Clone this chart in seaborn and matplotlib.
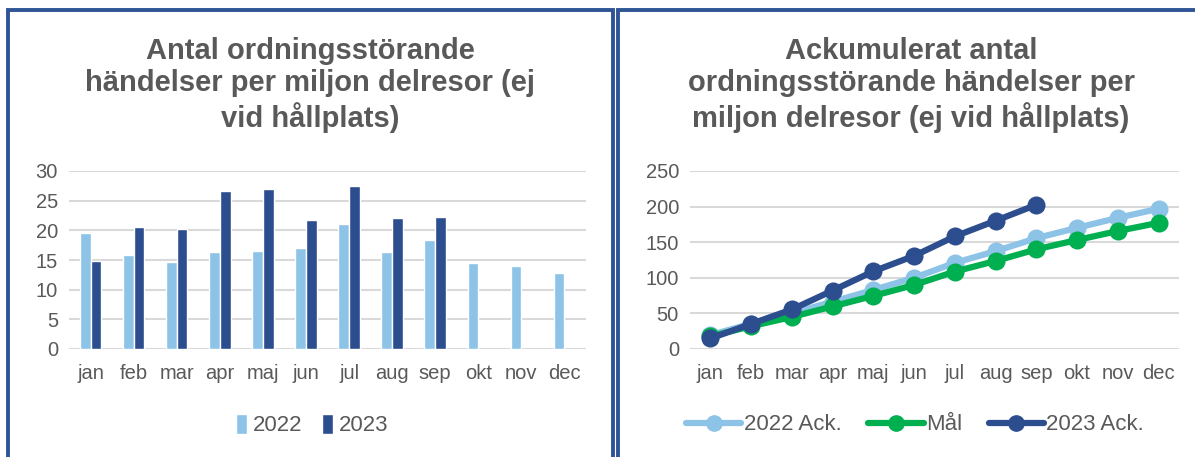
import pandas as pd
import matplotlib.pyplot as plt
import seaborn as sns
from matplotlib.patches import Rectangle
from matplotlib.lines import Line2D

# data
months = ["jan", "feb", "mar", "apr", "maj", "jun", "jul", "aug", "sep", "okt", "nov", "dec"]
monthly_2022 = [19.6, 15.9, 14.6, 16.4, 16.5, 17.0, 21.0, 16.4, 18.3, 14.5, 14.0, 12.8]
monthly_2023 = [14.8, 20.5, 20.2, 26.6, 27.0, 21.7, 27.4, 22.0, 22.3]
ack_2022 = [19.6, 35.5, 50.1, 66.5, 83.0, 100.0, 121.0, 137.4, 155.7, 170.2, 184.2, 197.0]
ack_mal = [17.6, 32.0, 45.0, 59.8, 74.6, 89.9, 108.8, 123.6, 140.0, 153.1, 165.7, 177.2]
ack_2023 = [14.8, 35.3, 55.5, 82.1, 109.1, 130.8, 158.2, 180.2, 202.5]

light = "#8DC3E7"
dark = "#2C4D8E"
green = "#00AF50"
grey = "#595959"
border = "#2F5597"

sns.set_theme(style="white")
plt.rcParams["font.family"] = ["Liberation Sans", "DejaVu Sans"]

bars = pd.DataFrame({
    "month": months * 2,
    "year": ["2022"] * 12 + ["2023"] * 12,
    "value": monthly_2022 + monthly_2023 + [None] * (12 - len(monthly_2023)),
})

lines = pd.concat([
    pd.DataFrame({"month": months, "serie": "2022 Ack.", "value": ack_2022}),
    pd.DataFrame({"month": months, "serie": "Mål", "value": ack_mal}),
    pd.DataFrame({"month": months[:len(ack_2023)], "serie": "2023 Ack.", "value": ack_2023}),
])

fig = plt.figure(figsize=(11.95, 4.57), dpi=100)
W, H = 1195, 457

def fx(px):
    return px / W

def fy(py):
    return 1 - py / H

# panel frames
fig.patches.append(Rectangle((fx(8), fy(470)), fx(605), fy(10) - fy(470),
                             transform=fig.transFigure, fill=False,
                             edgecolor=border, linewidth=2.8))
fig.patches.append(Rectangle((fx(618), fy(470)), fx(620), fy(10) - fy(470),
                             transform=fig.transFigure, fill=False,
                             edgecolor=border, linewidth=2.8))

ax1 = fig.add_axes([fx(69), fy(349), fx(586 - 69), fy(171) - fy(349)])
ax2 = fig.add_axes([fx(690), fy(349), fx(1179 - 690), fy(171) - fy(349)])

# left: monthly bars
sns.barplot(data=bars, x="month", y="value", hue="year", order=months,
            hue_order=["2022", "2023"], palette=[light, dark], width=0.5,
            saturation=1, ax=ax1, legend=True)
ax1.set_ylim(0, 30)
ax1.set_yticks(range(0, 31, 5))
ax1.set_xlim(-0.5, 11.5)

# right: cumulative lines
sns.lineplot(data=lines, x="month", y="value", hue="serie",
             hue_order=["2022 Ack.", "Mål", "2023 Ack."],
             palette=[light, green, dark], marker="o", markersize=13,
             markeredgewidth=0, linewidth=4.5, sort=False, ax=ax2, legend=False)
ax2.set_ylim(0, 250)
ax2.set_yticks(range(0, 251, 50))
ax2.set_xlim(-0.5, 11.5)

for ax in (ax1, ax2):
    ax.set_xlabel("")
    ax.set_ylabel("")
    ax.grid(axis="y", color="#D9D9D9", linewidth=1.5)
    ax.set_axisbelow(True)
    for s in ax.spines.values():
        s.set_visible(False)
    ax.tick_params(axis="both", labelsize=14.5, labelcolor=grey, length=0)
    ax.tick_params(axis="x", pad=11)
    ax.tick_params(axis="y", pad=8)

# legends
ax1.legend(loc="center", bbox_to_anchor=(fx(312), fy(425)),
           bbox_transform=fig.transFigure, ncol=2, frameon=False,
           fontsize=16, labelcolor=grey, handlelength=0.5, handleheight=1.0,
           handletextpad=0.25, columnspacing=0.9)

handles = [Line2D([], [], color=c, linewidth=4.5, marker="o", markersize=11)
           for c in (light, green, dark)]
fig.legend(handles, ["2022 Ack.", "Mål", "2023 Ack."], loc="center",
           bbox_to_anchor=(fx(915), fy(425)), ncol=3, frameon=False,
           fontsize=16, labelcolor=grey, handlelength=2.5,
           handletextpad=0.1, columnspacing=1.2)

# titles
fig.text(fx(310), fy(85), "Antal ordningsstörande\nhändelser per miljon delresor (ej\nvid hållplats)",
         ha="center", va="center", fontsize=21, fontweight="bold",
         color=grey, linespacing=1.2)
fig.text(fx(911), fy(85), "Ackumulerat antal\nordningsstörande händelser per\nmiljon delresor (ej vid hållplats)",
         ha="center", va="center", fontsize=21, fontweight="bold",
         color=grey, linespacing=1.2)

fig.savefig("out.png", dpi=100)
